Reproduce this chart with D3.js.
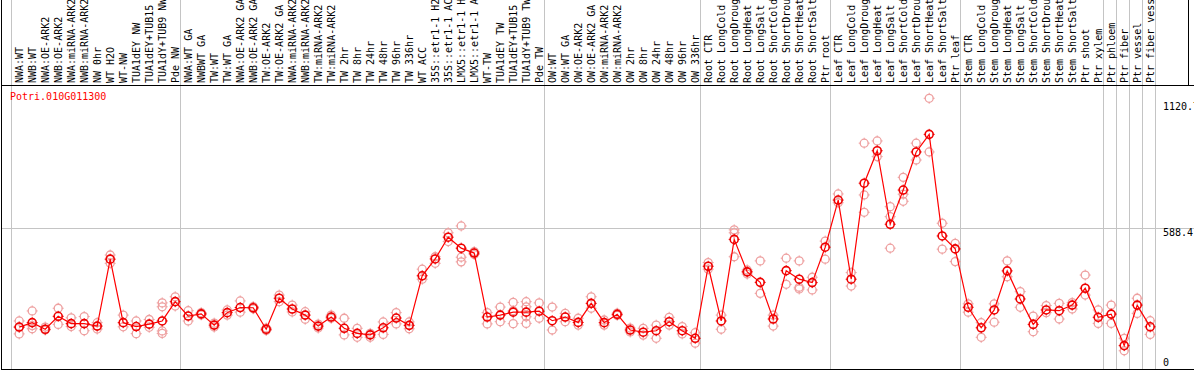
<!DOCTYPE html>
<html>
<head>
<meta charset="utf-8">
<script src="https://cdn.jsdelivr.net/npm/d3@7"></script>
<style>
  html, body { margin: 0; padding: 0; background: #fff; }
  svg { display: block; }
  text { font-family: "DejaVu Sans Mono", "Liberation Mono", monospace; font-size: 10px; }
</style>
</head>
<body>
<div id="chart"></div>
<script>
const geneId = "Potri.010G011300"

const labels = [
  "NWA:WT", "NWB:WT", "NWA:OE-ARK2", "NWB:OE-ARK2", "NWA:miRNA-ARK2", "NWB:miRNA-ARK2",
  "NW 0hr", "WT H2O", "WT-NW", "TUA1dEY NW", "TUA1dEY+TUB15 NW", "TUA1dY+TUB9 NW", "Pde NW",
  "NWA:WT GA", "NWBWT GA", "TW:WT", "TW:WT GA", "NWA:OE-ARK2 GA", "NWB:OE-ARK2 GA",
  "TW:OE-ARK2", "TW:OE-ARK2 GA", "NWA:miRNA-ARK2", "NWB:miRNA-ARK2", "TW:miRNA-ARK2",
  "TW:miRNA-ARK2", "TW 2hr", "TW 8hr", "TW 24hr", "TW 48hr", "TW 96hr", "TW 336hr",
  "WT ACC", "35S::etr1-1 H2O", "35S::etr1-1 ACC", "LMX5::etr1-1 H2O", "LMX5::etr1-1 ACC",
  "WT-TW", "TUA1dEY TW", "TUA1dEY+TUB15 TW", "TUA1dY+TUB9 TW", "Pde TW",
  "OW:WT", "OW:WT GA", "OW:OE-ARK2", "OW:OE-ARK2 GA", "OW:miRNA-ARK2", "OW:miRNA-ARK2",
  "OW 2hr", "OW 8hr", "OW 24hr", "OW 48hr", "OW 96hr", "OW 336hr",
  "Root CTR", "Root LongCold", "Root LongDrought", "Root LongHeat", "Root LongSalt",
  "Root ShortCold", "Root ShortDrought", "Root ShortHeat", "Root ShortSalt", "Ptr root",
  "Leaf CTR", "Leaf LongCold", "Leaf LongDrought", "Leaf LongHeat", "Leaf LongSalt",
  "Leaf ShortCold", "Leaf ShortDrought", "Leaf ShortHeat", "Leaf ShortSalt", "Ptr leaf",
  "Stem CTR", "Stem LongCold", "Stem LongDrought", "Stem LongHeat", "Stem LongSalt",
  "Stem ShortCold", "Stem ShortDrought", "Stem ShortHeat", "Stem ShortSalt",
  "Ptr shoot", "Ptr xylem", "Ptr phloem", "Ptr fiber", "Ptr vessel", "Ptr fiber vessel"
]

// mean expression per sample
const means = [
  184, 202, 175, 228, 198, 198, 188, 462, 202, 186, 196, 209, 288,
  229, 238, 192, 243, 264, 263, 175, 302, 258, 233, 188, 225, 179, 158, 152, 181, 221, 191,
  394, 463, 552, 507, 487, 225, 233, 245, 245, 249,
  210, 225, 203, 281, 202, 236, 172, 163, 169, 206, 169, 138,
  433, 209, 543, 410, 367, 217, 415, 380, 366, 511,
  704, 380, 773, 906, 605, 745, 901, 973, 557, 504,
  265, 181, 254, 414, 299, 195, 254, 251, 274, 343, 224,
  237, 108, 274, 185
]

// individual replicates per sample
const replicates = [
  [209, 156, 184], [250, 177, 190], [184, 172], [261, 195], [222, 186], [227, 169],
  [202, 176], [479, 445], [233, 185], [209, 157], [215, 183], [283, 267, 168, 158], [308, 270],
  [251, 209], [243, 234], [200, 184], [254, 233], [291, 245], [268, 259], [180, 170],
  [315, 288], [274, 246], [247, 216], [196, 180], [233, 220], [220, 152], [179, 142],
  [158, 142], [205, 154], [243, 197], [205, 177],
  [421, 380], [472, 445], [570, 534], [598, 470, 451], [493, 481], [243, 197], [266, 206],
  [285, 251, 198], [288, 267, 226, 199], [283, 220],
  [266, 172], [240, 206], [220, 192], [308, 261], [213, 192], [241, 232], [180, 164],
  [179, 151], [192, 138], [224, 192], [186, 156], [161, 118],
  [448, 421], [233, 175], [582, 570, 472], [410, 401, 418], [455, 322], [233, 188],
  [466, 359], [455, 347, 340], [388, 336], [536, 462],
  [729, 693], [407, 352], [937, 725, 654], [946, 882], [677, 636, 507], [797, 728, 699],
  [937, 868], [1120.76, 901], [609, 503], [527, 452],
  [279, 245], [202, 142], [279, 204], [455, 390], [329, 265], [229, 165], [272, 243],
  [281, 217], [284, 258], [397, 315], [254, 199],
  [274, 199], [138, 87], [302, 240], [210, 154]
]

// column index where each gray separator sits
const groupStarts = [0, 13, 41, 53, 63, 73, 84, 85, 86, 87, 88]

const yTickValues = [1120.76, 588.4, 0]
const yTickLabels = ["1120.76", "588.4", "0"]

const width = 1194
const height = 370
const headerBottom = 85
const colWidth = 13
const colLeft = 10.7

const svg = d3.select("#chart").append("svg")
  .attr("width", width)
  .attr("height", height)

const x = d3.scaleLinear()
  .domain([0, labels.length])
  .range([colLeft, colLeft + colWidth * labels.length])
const cx = i => x(i) + 8.5

const yMax = d3.max(replicates.flat()) * 1.05
const y = d3.scaleLinear()
  .domain([0, yMax])
  .range([372, headerBottom - 0.4])

// grid lines
const grid = svg.append("g").attr("class", "grid")
grid.selectAll("line.v")
  .data(groupStarts)
  .enter()
  .append("line")
  .attr("class", "v")
  .attr("x1", d => Math.round(x(d)) + 0.5)
  .attr("x2", d => Math.round(x(d)) + 0.5)
  .attr("y1", 0)
  .attr("y2", height)
  .attr("stroke", "#c4c4c4")
  .attr("stroke-width", 1)

grid.append("line")
  .attr("x1", 1)
  .attr("x2", width)
  .attr("y1", Math.round(y(588.4)) + 0.5)
  .attr("y2", Math.round(y(588.4)) + 0.5)
  .attr("stroke", "#c4c4c4")

// sample labels in header
svg.append("g")
  .selectAll("text")
  .data(labels)
  .enter()
  .append("text")
  .attr("transform", (d, i) => `translate(${cx(i) + 3.5},83) rotate(-90)`)
  .attr("fill", "#000")
  .text(d => d)

// frame
svg.append("line")
  .attr("x1", 1).attr("x2", width)
  .attr("y1", headerBottom + 0.5).attr("y2", headerBottom + 0.5)
  .attr("stroke", "#000")
svg.append("line")
  .attr("x1", 1.5).attr("x2", 1.5)
  .attr("y1", 0).attr("y2", height)
  .attr("stroke", "#000")
svg.append("line")
  .attr("x1", 1).attr("x2", width)
  .attr("y1", 369.5).attr("y2", 369.5)
  .attr("stroke", "#000")
svg.append("line")
  .attr("x1", 1188.5).attr("x2", 1188.5)
  .attr("y1", 0).attr("y2", headerBottom)
  .attr("stroke", "#000")

// gene id
svg.append("text")
  .attr("x", 10)
  .attr("y", 100)
  .attr("fill", "#ff0000")
  .text(geneId)

// y tick labels
const tickDy = [12, 8, -6]
svg.append("g")
  .selectAll("text")
  .data(yTickValues)
  .enter()
  .append("text")
  .attr("x", 1163)
  .attr("y", (d, i) => y(d) + tickDy[i])
  .attr("fill", "#000")
  .text((d, i) => yTickLabels[i])

// replicate markers
const repPoints = replicates.flatMap((reps, i) => reps.map(v => ({i, v})))
const marker = (g, color, sw) => {
  g.append("circle")
    .attr("r", 4)
    .attr("fill", "none")
    .attr("stroke", color)
    .attr("stroke-width", sw)
  g.append("path")
    .attr("d", "M0,-5.5V-3.5M0,3.5V5.5M-5.5,0H-3.5M3.5,0H5.5")
    .attr("stroke", color)
    .attr("stroke-width", 1)
}

svg.append("g")
  .selectAll("g")
  .data(repPoints)
  .enter()
  .append("g")
  .attr("transform", d => `translate(${cx(d.i)},${y(d.v)})`)
  .each(function () { marker(d3.select(this), "#eea0a0", 1.3) })

// mean line
const line = d3.line()
  .x((d, i) => cx(i))
  .y(d => y(d))
svg.append("path")
  .datum(means)
  .attr("d", line)
  .attr("fill", "none")
  .attr("stroke", "#ff0000")
  .attr("stroke-width", 1.2)

svg.append("g")
  .selectAll("g")
  .data(means)
  .enter()
  .append("g")
  .attr("transform", (d, i) => `translate(${cx(i)},${y(d)})`)
  .each(function () { marker(d3.select(this), "#ee0000", 1.6) })
</script>
</body>
</html>
